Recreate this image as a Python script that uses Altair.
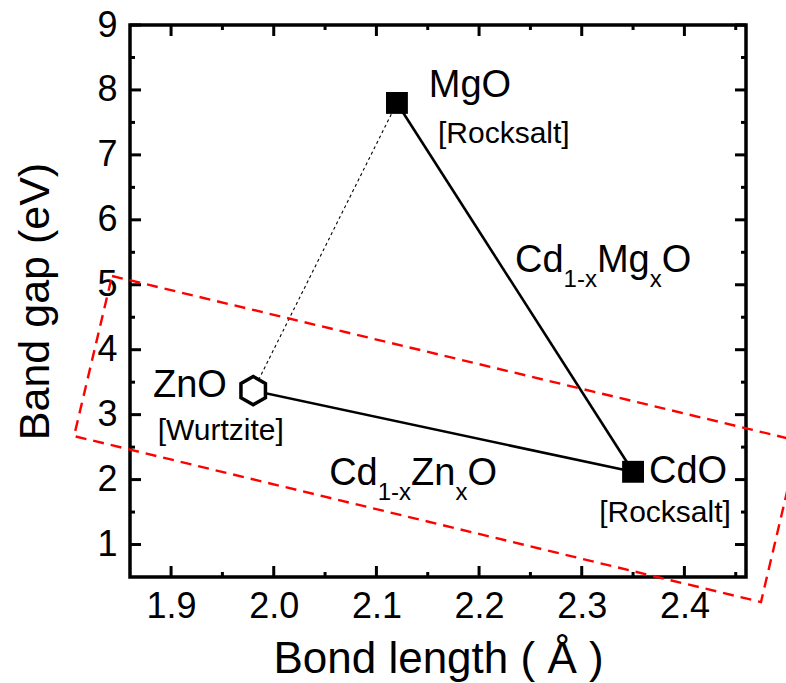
import altair as alt
import pandas as pd

# End-member oxides: bond length (Å) and band gap (eV)
compounds = ["MgO", "ZnO", "CdO"]
bond_length = [2.12, 1.98, 2.35]
band_gap = [7.80, 3.37, 2.12]
marker = ["square", "hexagon", "square"]

# Tie lines between end members
solid_pairs = [("MgO", "CdO"), ("ZnO", "CdO")]
dotted_pairs = [("ZnO", "MgO")]

# Highlighted region (dashed red box), corners in data units
box_x = [1.8425, 2.5116, 2.4746, 1.8055, 1.8425]
box_y = [5.135, 2.594, 0.114, 2.670, 5.135]

# Text labels (left edge, baseline) in data units
label_text = ["MgO", "[Rocksalt]", "ZnO", "[Wurtzite]", "CdO", "[Rocksalt]"]
label_x = [2.151, 2.160, 1.8824, 1.8870, 2.3655, 2.3170]
label_y = [7.89, 7.18, 3.27, 2.61, 1.947, 1.346]
label_big = [True, False, True, False, True, False]

# Alloy formulas: (text, is_subscript) pieces, anchor (left edge, baseline)
mg_formula = [("Cd", False), ("1-x", True), ("Mg", False), ("x", True), ("O", False)]
zn_formula = [("Cd", False), ("1-x", True), ("Zn", False), ("x", True), ("O", False)]
formula_anchor_x = [2.235, 2.054]
formula_anchor_y = [5.196, 1.92]

# Axis ticks
x_major = [1.9, 2.0, 2.1, 2.2, 2.3, 2.4]
x_minor = [1.95, 2.05, 2.15, 2.25, 2.35, 2.45]
y_major = [1, 2, 3, 4, 5, 6, 7, 8, 9]
y_minor = [1.5, 2.5, 3.5, 4.5, 5.5, 6.5, 7.5, 8.5]

X_DOMAIN = [1.86, 2.46]
Y_DOMAIN = [0.5, 9.0]
W, H = 616, 552
FONT = "Liberation Sans"
BIG, SMALL, SUB = 38, 30, 24
MAJOR_LEN, MINOR_LEN, TICK_W = 11, 5, 3

xscale = alt.Scale(domain=X_DOMAIN, nice=False, zero=False)
yscale = alt.Scale(domain=Y_DOMAIN, nice=False, zero=False)
xaxis = alt.Axis(
    values=x_major, format=".1f", title="Bond length ( Å )",
    ticks=False, tickSize=0, domain=False, grid=False,
    labelFont=FONT, labelFontSize=36, labelColor="black", labelPadding=12,
    titleFont=FONT, titleFontSize=44, titleFontWeight="normal",
    titleColor="black", titlePadding=13,
)
yaxis = alt.Axis(
    values=y_major, format="d", title="Band gap (eV)",
    ticks=False, tickSize=0, domain=False, grid=False,
    labelFont=FONT, labelFontSize=36, labelColor="black", labelPadding=13,
    titleFont=FONT, titleFontSize=43, titleFontWeight="normal",
    titleColor="black", titlePadding=39,
)


def X(field):
    return alt.X(f"{field}:Q", scale=xscale, axis=xaxis)


def Y(field):
    return alt.Y(f"{field}:Q", scale=yscale, axis=yaxis)


pts = pd.DataFrame({"name": compounds, "x": bond_length, "y": band_gap, "marker": marker})
pos = {n: (bx, by) for n, bx, by in zip(compounds, bond_length, band_gap)}


def segments(pairs):
    rows = []
    for i, (a, b) in enumerate(pairs):
        for k, n in enumerate((a, b)):
            rows.append({"seg": i, "k": k, "x": pos[n][0], "y": pos[n][1]})
    return pd.DataFrame(rows)


solid = alt.Chart(segments(solid_pairs)).mark_line(
    color="black", strokeWidth=2.6
).encode(x=X("x"), y=Y("y"), detail="seg:N", order="k:Q")

dotted = alt.Chart(segments(dotted_pairs)).mark_line(
    color="black", strokeWidth=1.1, strokeDash=[3, 3]
).encode(x=X("x"), y=Y("y"), detail="seg:N", order="k:Q")

box = alt.Chart(
    pd.DataFrame({"x": box_x, "y": box_y, "k": list(range(len(box_x)))})
).mark_line(color="#ff0000", strokeWidth=2.4, strokeDash=[11, 7]).encode(
    x=X("x"), y=Y("y"), order="k:Q"
)

squares = alt.Chart(pts[pts.marker == "square"]).mark_point(
    shape="square", filled=True, color="black", size=480, opacity=1
).encode(x=X("x"), y=Y("y"))

hexagons = alt.Chart(pts[pts.marker == "hexagon"]).mark_point(
    shape="M0,-1L0.866,-0.5L0.866,0.5L0,1L-0.866,0.5L-0.866,-0.5Z",
    filled=False, fill="white", stroke="black", strokeWidth=3.5,
    size=800, opacity=1, fillOpacity=1,
).encode(x=X("x"), y=Y("y"))

labels = pd.DataFrame({"t": label_text, "x": label_x, "y": label_y, "big": label_big})
big_labels = alt.Chart(labels[labels.big]).mark_text(
    font=FONT, fontSize=BIG, align="left", baseline="alphabetic", color="black"
).encode(x=X("x"), y=Y("y"), text="t:N")
small_labels = alt.Chart(labels[~labels.big]).mark_text(
    font=FONT, fontSize=SMALL, align="left", baseline="alphabetic", color="black"
).encode(x=X("x"), y=Y("y"), text="t:N")

# Advance widths (em) for laying out formula pieces side by side
ADV = {"C": .722, "d": .556, "1": .556, "-": .333, "x": .5, "M": .833,
       "g": .556, "Z": .611, "n": .556, "O": .778}
px_to_x = (X_DOMAIN[1] - X_DOMAIN[0]) / W
rows = []
for parts, fx, fy in zip([mg_formula, zn_formula], formula_anchor_x, formula_anchor_y):
    off = 0.0
    for txt, sub in parts:
        size = SUB if sub else BIG
        rows.append({"t": txt, "x": fx + off * px_to_x, "y": fy, "sub": sub})
        off += sum(ADV[c] for c in txt) * size
formula = pd.DataFrame(rows)
formula_big = alt.Chart(formula[~formula["sub"]]).mark_text(
    font=FONT, fontSize=BIG, align="left", baseline="alphabetic", color="black"
).encode(x=X("x"), y=Y("y"), text="t:N")
formula_sub = alt.Chart(formula[formula["sub"]]).mark_text(
    font=FONT, fontSize=SUB, align="left", baseline="alphabetic", color="black", dy=15
).encode(x=X("x"), y=Y("y"), text="t:N")

# Inward-pointing ticks on all four sides of the frame
tick_layers = []
for vals, length in [(x_major, MAJOR_LEN), (x_minor, MINOR_LEN)]:
    d = pd.DataFrame({"x": vals})
    tick_layers.append(alt.Chart(d).mark_rule(color="black", strokeWidth=TICK_W).encode(
        x=X("x"), y=alt.value(H), y2=alt.value(H - length)))
    tick_layers.append(alt.Chart(d).mark_rule(color="black", strokeWidth=TICK_W).encode(
        x=X("x"), y=alt.value(0), y2=alt.value(length)))
for vals, length in [(y_major, MAJOR_LEN), (y_minor, MINOR_LEN)]:
    d = pd.DataFrame({"y": vals})
    tick_layers.append(alt.Chart(d).mark_rule(color="black", strokeWidth=TICK_W).encode(
        y=Y("y"), x=alt.value(0), x2=alt.value(length)))
    tick_layers.append(alt.Chart(d).mark_rule(color="black", strokeWidth=TICK_W).encode(
        y=Y("y"), x=alt.value(W), x2=alt.value(W - length)))

chart = alt.layer(
    *tick_layers, dotted, solid, squares, hexagons,
    big_labels, small_labels, formula_big, formula_sub, box,
).properties(
    width=W, height=H,
    background="white",
    autosize=alt.AutoSizeParams(type="none"),
    padding={"left": 130, "top": 25, "right": 40, "bottom": 106},
).configure_view(
    stroke="black", strokeWidth=3.5, fill="white"
)

chart.save("out.html", embed_options={"renderer": "svg", "actions": False})
